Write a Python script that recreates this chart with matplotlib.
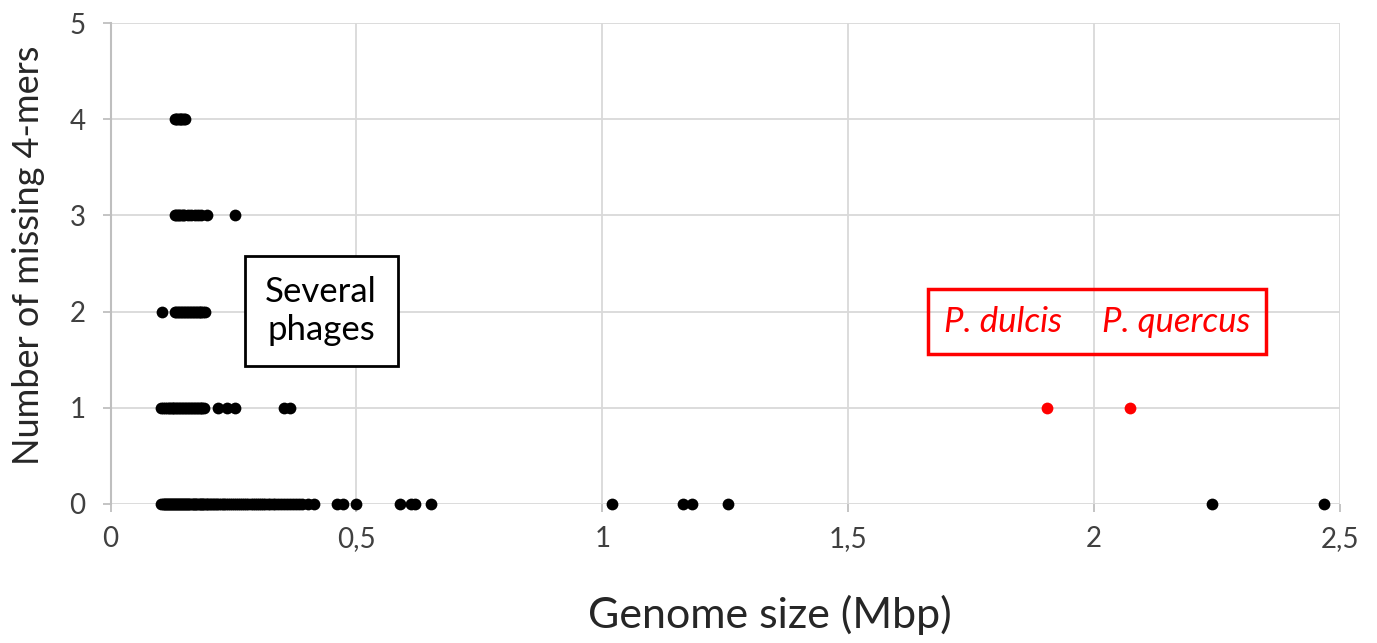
import matplotlib
matplotlib.use("Agg")
import matplotlib.pyplot as plt

# Data (genome size in Mbp, number of missing 4-mers)
x_missing0 = [0.103, 0.106, 0.108, 0.110, 0.112, 0.115, 0.117, 0.119, 0.121, 0.123,
              0.125, 0.127, 0.129, 0.131, 0.133, 0.135, 0.137, 0.139, 0.141, 0.143,
              0.145, 0.147, 0.149, 0.151, 0.153, 0.156, 0.158, 0.160, 0.162, 0.165,
              0.167, 0.169, 0.171, 0.174, 0.176, 0.179, 0.181, 0.184, 0.186, 0.189,
              0.191, 0.194, 0.196, 0.199, 0.202, 0.205, 0.208, 0.211, 0.214, 0.217,
              0.221, 0.224, 0.228, 0.231, 0.235, 0.239, 0.243, 0.247, 0.251, 0.255,
              0.259, 0.263, 0.268, 0.272, 0.276, 0.280, 0.285, 0.289, 0.293, 0.298,
              0.302, 0.306, 0.311, 0.315, 0.320, 0.325, 0.330, 0.335, 0.340, 0.346,
              0.352, 0.358, 0.365, 0.371, 0.378, 0.384, 0.390, 0.402, 0.413, 0.461,
              0.473, 0.499, 0.589, 0.612, 0.619, 0.652, 1.020, 1.165, 1.182, 1.256,
              2.239, 2.468]
x_missing1 = [0.103, 0.107, 0.110, 0.114, 0.118, 0.122, 0.125, 0.128, 0.130, 0.133,
              0.136, 0.139, 0.142, 0.145, 0.148, 0.151, 0.154, 0.157, 0.160, 0.163,
              0.166, 0.169, 0.172, 0.175, 0.178, 0.181, 0.184, 0.187, 0.190, 0.219,
              0.237, 0.253, 0.353, 0.365]
x_missing2 = [0.105, 0.131, 0.134, 0.137, 0.140, 0.143, 0.146, 0.149, 0.152, 0.155,
              0.158, 0.161, 0.164, 0.167, 0.170, 0.173, 0.176, 0.179, 0.182, 0.185,
              0.188, 0.192]
x_missing3 = [0.131, 0.134, 0.137, 0.140, 0.143, 0.147, 0.150, 0.157, 0.164, 0.171,
              0.178, 0.185, 0.196, 0.253]
x_missing4 = [0.131, 0.134, 0.136, 0.139, 0.141, 0.144, 0.146, 0.149, 0.151]

red_x = [1.905, 2.072]
red_y = [1, 1]
red_labels = ["P. dulcis", "P. quercus"]

x_ticks = [0, 0.5, 1, 1.5, 2, 2.5]
x_ticklabels = ["0", "0,5", "1", "1,5", "2", "2,5"]
y_ticks = [0, 1, 2, 3, 4, 5]

plt.rcParams['font.family'] = ['Lato', 'DejaVu Sans']

fig = plt.figure(figsize=(13.77, 6.43), dpi=100)
ax = fig.add_axes([110.5 / 1377, 1 - 504 / 643, (1340 - 110.5) / 1377, (504 - 23) / 643])

ms = 72
for yv, xs in enumerate([x_missing0, x_missing1, x_missing2, x_missing3, x_missing4]):
    ax.scatter(xs, [yv] * len(xs), s=ms, color='black', zorder=3, clip_on=False, linewidths=0)
ax.scatter(red_x, red_y, s=ms, color='#ff0000', zorder=3, clip_on=False, linewidths=0)

ax.set_xlim(0, 2.5)
ax.set_ylim(0, 5)
ax.set_xticks(x_ticks)
ax.set_xticklabels(x_ticklabels)
ax.set_yticks(y_ticks)
ax.grid(True, color='#d9d9d9', linewidth=1.3, zorder=0)
ax.set_axisbelow(True)
for s in ['top', 'right', 'bottom']:
    ax.spines[s].set_visible(False)
ax.spines['left'].set_color('#bfbfbf')
ax.spines['left'].set_linewidth(1.5)
ax.tick_params(axis='both', colors='#bfbfbf', labelcolor='#404040', labelsize=20, length=6, width=1.3)
ax.tick_params(axis='x', pad=10)
ax.tick_params(axis='y', pad=12)

ax.set_xlabel("Genome size (Mbp)", fontsize=31, color='#262626')
ax.set_ylabel("Number of missing 4-mers", fontsize=26, color='#262626')
ax.xaxis.set_label_coords((770 - 110.5) / 1229.5, -(615 - 504) / 481, transform=ax.transAxes)
ax.xaxis.label.set_va('center')
ax.yaxis.set_label_coords(-(110.5 - 29) / 1229.5, (504 - 255) / 481, transform=ax.transAxes)
ax.yaxis.label.set_va('center')

px = lambda p: (p - 110.5) / 491.8
py = lambda p: (504 - p) / 96.2

# "Several phages" box
ax.add_patch(plt.Rectangle((px(245), py(366)), px(398) - px(245), py(256) - py(366),
                           transform=ax.transData, facecolor='white', edgecolor='black',
                           linewidth=2, zorder=4, clip_on=False))
ax.text(px(321), py(311), "Several\nphages", fontsize=25, ha='center', va='center',
        color='black', linespacing=1.2, zorder=5)

# red box
ax.add_patch(plt.Rectangle((px(928), py(354)), px(1266) - px(928), py(289) - py(354),
                           transform=ax.transData, fill=False, edgecolor='#ff0000',
                           linewidth=2.5, zorder=4))
ax.text(px(1003), py(322), red_labels[0], fontsize=25, style='italic',
        color='#ff0000', ha='center', va='center', zorder=5)
ax.text(px(1176), py(322), red_labels[1], fontsize=25, style='italic',
        color='#ff0000', ha='center', va='center', zorder=5)

fig.savefig("out.png", dpi=100, facecolor='white')
